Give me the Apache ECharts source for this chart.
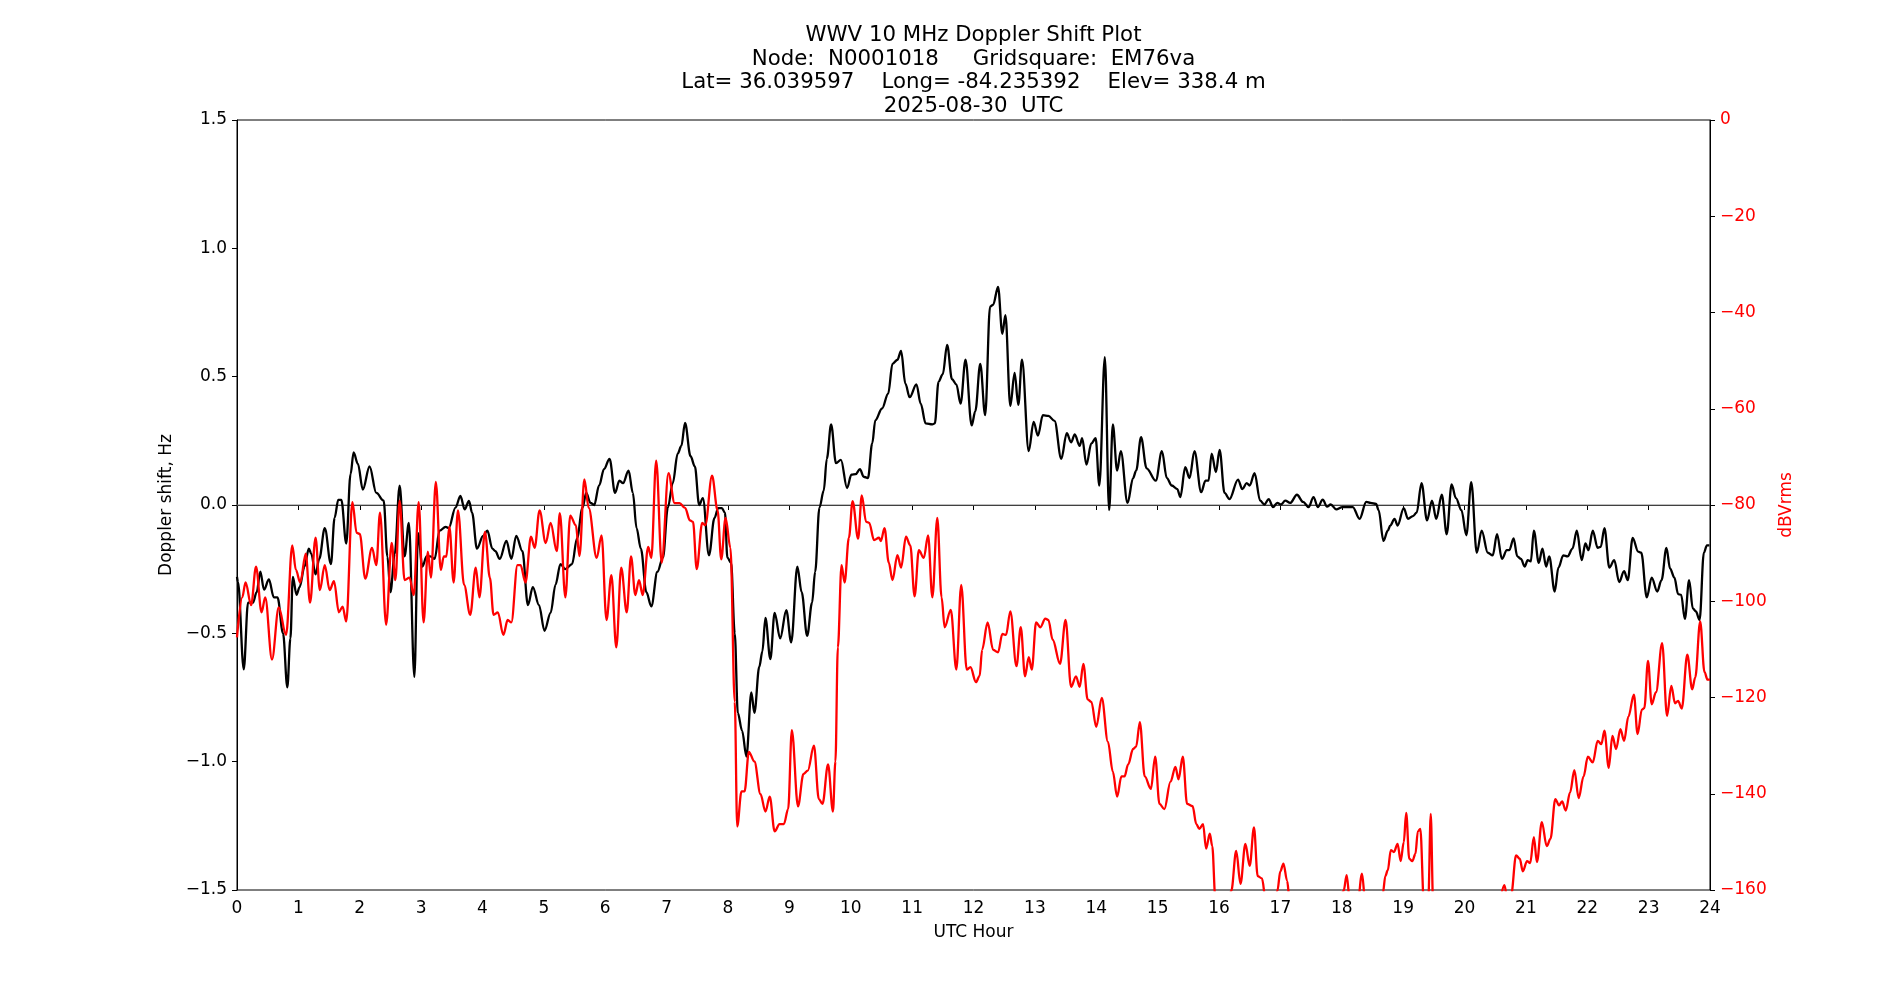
<!DOCTYPE html>
<html>
<head>
<meta charset="utf-8">
<title>WWV 10 MHz Doppler Shift Plot</title>
<script src="https://cdn.jsdelivr.net/npm/echarts@6/dist/echarts.min.js"></script>
<style>
  html, body { margin: 0; padding: 0; background: #fff; }
  #chart { width: 1900px; height: 1000px; }
</style>
</head>
<body>
<div id="chart"></div>
<script>
// doppler trace (black, left axis)
var shiftHours = [0.0, 0.016, 0.11, 0.18, 0.26, 0.32, 0.38, 0.44, 0.52, 0.60, 0.66, 0.75, 0.82, 0.87, 0.91, 0.97,
  1.02, 1.10, 1.17, 1.21, 1.28, 1.34, 1.43, 1.53, 1.59, 1.65, 1.70, 1.78, 1.85, 1.90, 1.97,
  2.05, 2.16, 2.27, 2.39, 2.45, 2.50, 2.57, 2.65, 2.73, 2.80, 2.89, 2.95,
  3.02, 3.09, 3.15, 3.22, 3.30, 3.40, 3.45, 3.56, 3.64, 3.71, 3.78, 3.83, 3.91,
  4.01, 4.08, 4.16, 4.21, 4.28, 4.39, 4.47, 4.55, 4.65, 4.74, 4.82, 4.92,
  5.01, 5.11, 5.19, 5.27, 5.35, 5.46, 5.54, 5.63, 5.69, 5.76, 5.82, 5.90, 5.98,
  6.07, 6.16, 6.23, 6.29, 6.38, 6.45, 6.51, 6.58, 6.67, 6.75, 6.85, 6.94,
  7.02, 7.10, 7.18, 7.24, 7.30, 7.39, 7.46, 7.53, 7.59, 7.69, 7.78, 7.84, 7.90, 7.95, 7.99,
  8.05, 8.11, 8.16, 8.23, 8.30, 8.38, 8.43, 8.51, 8.56, 8.61, 8.69, 8.76, 8.85, 8.95,
  9.03, 9.13, 9.20, 9.29, 9.37, 9.42, 9.49, 9.56, 9.61, 9.68, 9.76, 9.84, 9.94,
  10.01, 10.08, 10.15, 10.21, 10.28, 10.35, 10.40, 10.51, 10.61, 10.68, 10.76, 10.82, 10.89, 10.96,
  11.07, 11.14, 11.22, 11.33, 11.37, 11.43, 11.50, 11.57, 11.65, 11.72, 11.79, 11.87, 11.97,
  12.03, 12.11, 12.19, 12.27, 12.32, 12.40, 12.47, 12.52, 12.60, 12.67, 12.73, 12.79, 12.90, 12.98,
  13.05, 13.13, 13.22, 13.32, 13.43, 13.52, 13.59, 13.65, 13.73, 13.77, 13.84, 13.92, 13.99,
  14.05, 14.14, 14.21, 14.27, 14.34, 14.40, 14.51, 14.60, 14.65, 14.73, 14.82, 14.97,
  15.07, 15.15, 15.23, 15.32, 15.37, 15.45, 15.52, 15.60, 15.71, 15.78, 15.83, 15.88, 15.95,
  16.01, 16.09, 16.17, 16.31, 16.38, 16.45, 16.50, 16.58, 16.67, 16.74, 16.81, 16.88, 16.95,
  17.01, 17.08, 17.16, 17.27, 17.37, 17.46, 17.54, 17.61, 17.69, 17.76, 17.82, 17.91,
  18.01, 18.18, 18.29, 18.40, 18.47, 18.56, 18.60, 18.68, 18.75, 18.79, 18.86, 18.91,
  19.01, 19.08, 19.16, 19.22, 19.30, 19.39, 19.47, 19.54, 19.63, 19.71, 19.79, 19.86, 19.95,
  20.03, 20.11, 20.20, 20.28, 20.38, 20.46, 20.53, 20.61, 20.69, 20.73, 20.80, 20.86, 20.92, 20.98,
  21.03, 21.08, 21.13, 21.21, 21.27, 21.33, 21.38, 21.47, 21.53, 21.61, 21.68, 21.76, 21.83, 21.91, 21.97,
  22.02, 22.09, 22.17, 22.22, 22.28, 22.36, 22.44, 22.52, 22.60, 22.66, 22.74, 22.83, 22.88, 22.97,
  23.05, 23.14, 23.21, 23.29, 23.35, 23.42, 23.48, 23.53, 23.59, 23.66, 23.72, 23.77, 23.83, 23.90, 23.95, 23.99];

var shiftHz = [-0.28, -0.30, -0.64, -0.38, -0.38, -0.34, -0.26, -0.33, -0.29, -0.36, -0.36, -0.50, -0.71, -0.52, -0.28, -0.35,
  -0.32, -0.24, -0.17, -0.19, -0.27, -0.21, -0.09, -0.23, -0.05, 0.02, 0.02, -0.15, 0.12, 0.205, 0.16,
  0.06, 0.15, 0.047, 0.017, -0.20, -0.34, -0.19, 0.075, -0.20, -0.07, -0.67, -0.11,
  -0.24, -0.20, -0.20, -0.21, -0.10, -0.085, -0.09, -0.01, 0.035, -0.017, 0.016, -0.03, -0.17,
  -0.12, -0.10, -0.17, -0.18, -0.21, -0.14, -0.21, -0.12, -0.18, -0.39, -0.32, -0.39,
  -0.49, -0.42, -0.31, -0.23, -0.25, -0.23, -0.13, -0.01, 0.047, 0.008, 0.0, 0.076, 0.14,
  0.18, 0.047, 0.095, 0.085, 0.134, 0.047, -0.09, -0.17, -0.34, -0.395, -0.26, -0.205,
  -0.01, 0.085, 0.20, 0.23, 0.32, 0.19, 0.15, 0.0, 0.027, -0.196, -0.05, -0.012, -0.012, -0.03, -0.205,
  -0.225, -0.50, -0.81, -0.88, -0.98, -0.73, -0.81, -0.63, -0.57, -0.44, -0.60, -0.42, -0.52, -0.41,
  -0.535, -0.24, -0.34, -0.51, -0.38, -0.26, -0.01, 0.056, 0.18, 0.314, 0.163, 0.176, 0.066,
  0.118, 0.12, 0.14, 0.11, 0.105, 0.24, 0.33, 0.376, 0.434, 0.55, 0.566, 0.60, 0.473, 0.42,
  0.47, 0.395, 0.318, 0.314, 0.318, 0.48, 0.51, 0.624, 0.49, 0.47, 0.395, 0.566, 0.31,
  0.366, 0.55, 0.35, 0.773, 0.78, 0.85, 0.667, 0.74, 0.386, 0.515, 0.39, 0.566, 0.21, 0.324,
  0.27, 0.35, 0.347, 0.328, 0.18, 0.28, 0.244, 0.275, 0.23, 0.26, 0.157, 0.24, 0.26,
  0.076, 0.576, -0.02, 0.314, 0.134, 0.21, 0.008, 0.105, 0.134, 0.264, 0.143, 0.095,
  0.21, 0.105, 0.076, 0.062, 0.031, 0.147, 0.105, 0.21, 0.05, 0.095, 0.095, 0.20, 0.128,
  0.215, 0.047, 0.023, 0.099, 0.062, 0.085, 0.076, 0.124, 0.017, 0.002, 0.023, -0.008, 0.008,
  0.002, 0.017, 0.008, 0.04, 0.012, -0.008, 0.031, -0.008, 0.021, -0.006, 0.002, -0.017,
  -0.008, -0.008, -0.054, 0.012, 0.008, 0.004, -0.02, -0.14, -0.10, -0.08, -0.054, -0.08,
  -0.012, -0.054, -0.043, -0.03, 0.085, -0.06, 0.017, -0.054, 0.04, -0.114, 0.08, 0.027, -0.02,
  -0.118, 0.089, -0.186, -0.10, -0.186, -0.196, -0.114, -0.21, -0.176, -0.176, -0.13, -0.20, -0.21, -0.24,
  -0.215, -0.22, -0.10, -0.225, -0.17, -0.24, -0.20, -0.337, -0.244, -0.196, -0.20, -0.17, -0.10, -0.215, -0.15,
  -0.176, -0.10, -0.167, -0.163, -0.09, -0.244, -0.215, -0.30, -0.258, -0.293, -0.128, -0.182, -0.186, -0.36,
  -0.283, -0.337, -0.293, -0.167, -0.248, -0.283, -0.347, -0.35, -0.444, -0.293, -0.403, -0.415, -0.448, -0.186, -0.157, -0.157];

// signal level (red, right axis); values below -160 run off the plot
var levelHours = [0.0, 0.085, 0.14, 0.23, 0.31, 0.40, 0.46, 0.57, 0.68, 0.80, 0.90, 0.96,
  1.03, 1.12, 1.19, 1.28, 1.35, 1.43, 1.51, 1.58, 1.66, 1.72, 1.78, 1.88, 1.95,
  2.00, 2.09, 2.20, 2.27, 2.33, 2.43, 2.52, 2.58, 2.65, 2.73, 2.81, 2.88, 2.96,
  3.04, 3.11, 3.16, 3.24, 3.32, 3.37, 3.41, 3.46, 3.53, 3.60, 3.70, 3.80, 3.89, 3.95,
  4.04, 4.12, 4.18, 4.25, 4.34, 4.41, 4.47, 4.57, 4.62, 4.70, 4.79, 4.85, 4.93,
  5.03, 5.11, 5.21, 5.26, 5.35, 5.43, 5.52, 5.58, 5.66, 5.73, 5.86, 5.94,
  6.02, 6.10, 6.18, 6.26, 6.35, 6.42, 6.49, 6.55, 6.61, 6.70, 6.75, 6.83, 6.92,
  7.03, 7.13, 7.21, 7.30, 7.38, 7.43, 7.49, 7.58, 7.63, 7.74, 7.83, 7.89, 7.96,
  8.04, 8.11, 8.15, 8.22, 8.27, 8.34, 8.43, 8.53, 8.61, 8.68, 8.76, 8.84, 8.91, 8.98,
  9.04, 9.14, 9.23, 9.30, 9.40, 9.48, 9.54, 9.63, 9.71, 9.75, 9.79, 9.85, 9.90, 9.97,
  10.03, 10.12, 10.18, 10.25, 10.30, 10.38, 10.46, 10.49, 10.55, 10.62, 10.68, 10.76, 10.82, 10.90, 10.97,
  11.04, 11.11, 11.19, 11.26, 11.33, 11.41, 11.48, 11.53, 11.63, 11.72, 11.80, 11.89, 11.95,
  12.04, 12.10, 12.14, 12.23, 12.32, 12.40, 12.47, 12.53, 12.60, 12.70, 12.77, 12.84, 12.90, 12.95,
  13.02, 13.09, 13.17, 13.22, 13.29, 13.41, 13.50, 13.59, 13.67, 13.73, 13.79, 13.86, 13.92,
  14.00, 14.09, 14.19, 14.27, 14.34, 14.41, 14.46, 14.52, 14.60, 14.65, 14.71, 14.79, 14.89, 14.96,
  15.03, 15.11, 15.21, 15.29, 15.34, 15.41, 15.48, 15.57, 15.63, 15.68, 15.74, 15.79, 15.85, 15.89, 15.94,
  16.00, 16.10, 16.20, 16.28, 16.35, 16.43, 16.50, 16.57, 16.63, 16.70, 16.76, 16.85, 16.95,
  17.00, 17.05, 17.11, 17.15, 17.30, 17.50, 17.70, 17.90,
  18.03, 18.08, 18.13, 18.25, 18.33, 18.38, 18.50, 18.67, 18.71, 18.75, 18.80, 18.85, 18.91, 18.96,
  19.01, 19.05, 19.10, 19.15, 19.20, 19.24, 19.28, 19.34, 19.41, 19.45, 19.49, 19.60, 19.80,
  20.00, 20.20, 20.40, 20.55, 20.65, 20.70, 20.76, 20.84, 20.90, 20.95,
  21.02, 21.07, 21.13, 21.18, 21.26, 21.34, 21.40, 21.48, 21.54, 21.59, 21.65, 21.72, 21.79, 21.86, 21.94,
  22.01, 22.09, 22.17, 22.23, 22.28, 22.35, 22.41, 22.47, 22.54, 22.60, 22.67, 22.76, 22.82, 22.89, 22.93, 22.99,
  23.05, 23.12, 23.22, 23.30, 23.37, 23.43, 23.48, 23.54, 23.63, 23.71, 23.76, 23.84, 23.91, 23.96, 24.0];

var levelDb = [-107.5, -99.2, -96.1, -100.8, -92.8, -102.3, -99.2, -112.1, -101.3, -107.0, -88.4, -93.5,
  -96.1, -90.1, -100.3, -86.8, -97.7, -92.5, -97.7, -95.8, -102.3, -101.1, -104.2, -79.4, -85.8,
  -86.0, -95.3, -88.9, -92.5, -81.6, -104.9, -87.9, -95.6, -79.1, -95.6, -95.1, -98.7, -79.4,
  -104.4, -89.7, -95.1, -75.2, -93.5, -90.7, -90.7, -84.5, -96.1, -81.1, -96.6, -102.8, -93.0, -99.2,
  -85.6, -95.1, -102.8, -102.3, -107.0, -103.9, -104.4, -92.5, -92.5, -96.1, -86.6, -88.9, -81.1,
  -87.9, -83.7, -89.6, -81.7, -99.2, -82.2, -84.2, -90.6, -74.7, -80.6, -91.0, -86.3,
  -103.9, -94.6, -109.6, -93.0, -102.3, -90.7, -98.7, -95.6, -98.7, -88.7, -91.0, -70.8, -92.0,
  -73.4, -79.6, -79.6, -80.6, -83.2, -83.5, -93.3, -83.7, -84.2, -73.9, -81.1, -91.3, -82.7,
  -88.9, -120.9, -146.8, -139.5, -139.5, -131.3, -133.3, -140.1, -143.7, -140.6, -147.8, -146.3, -146.3, -143.2,
  -126.8, -142.6, -135.9, -135.2, -130.0, -141.1, -142.1, -133.9, -143.7, -133.3, -109.6, -92.5, -96.1, -86.8,
  -79.2, -87.0, -78.0, -83.5, -83.7, -87.3, -86.8, -87.5, -84.8, -92.0, -95.6, -90.4, -93.0, -86.6, -88.4,
  -99.0, -89.4, -91.0, -86.3, -99.2, -82.7, -99.2, -105.4, -101.8, -114.2, -96.6, -114.2, -113.7,
  -116.8, -115.5, -110.1, -104.4, -110.1, -110.6, -106.8, -107.0, -102.1, -113.5, -105.4, -115.6, -111.6, -114.2,
  -104.4, -105.4, -103.6, -103.9, -108.0, -113.0, -103.9, -117.8, -115.6, -117.8, -113.0, -120.4, -120.9,
  -126.1, -120.1, -129.2, -135.4, -140.6, -136.4, -136.4, -133.9, -130.7, -130.2, -125.1, -136.4, -139.0, -132.3,
  -142.1, -143.2, -137.5, -134.4, -137.0, -132.3, -142.1, -142.6, -146.3, -147.3, -146.3, -151.4, -148.3, -150.9, -161.5,
  -168, -167, -160.2, -151.9, -158.7, -150.4, -155.0, -147.0, -157.1, -157.6, -162, -166, -160.2,
  -156.1, -154.5, -158.1, -162, -168, -166, -167, -164,
  -160.2, -156.9, -162, -164, -156.6, -162, -165, -160.7, -157.1, -155.9, -151.7, -152.1, -150.4, -154.0,
  -150.1, -144.0, -153.5, -154.0, -152.5, -147.8, -147.3, -163, -162, -144.2, -163, -167, -168,
  -167, -168, -166, -163, -159, -162, -161, -152.8, -153.5, -156.1,
  -154.0, -154.4, -149.0, -154.2, -145.9, -150.9, -149.4, -141.1, -142.4, -141.6, -143.5, -139.7, -135.1, -140.9, -136.4,
  -132.3, -133.5, -129.0, -129.7, -126.9, -134.6, -128.0, -130.7, -126.6, -129.0, -124.0, -119.4, -127.6, -122.5, -122.2, -112.4,
  -121.4, -118.9, -108.7, -123.8, -117.6, -121.2, -120.7, -122.3, -111.1, -118.3, -115.8, -104.2, -114.7, -116.3, -116.3];

var titleLines = [
  'WWV 10 MHz Doppler Shift Plot',
  'Node:  N0001018     Gridsquare:  EM76va',
  'Lat= 36.039597    Long= -84.235392    Elev= 338.4 m',
  '2025-08-30  UTC'
];

function pairs(xs, ys) {
  var out = [];
  for (var i = 0; i < xs.length; i++) out.push([xs[i], ys[i]]);
  return out;
}
function minus(s) { return String(s).replace('-', '\u2212'); }

var FONT = 'DejaVu Sans';
var LABEL = 17;
var chart = echarts.init(document.getElementById('chart'), null, { renderer: 'canvas' });

var option = {
  animation: false,
  backgroundColor: '#ffffff',
  textStyle: { fontFamily: FONT },
  graphic: [{
    type: 'text',
    x: 973.5, y: 24,
    style: {
      text: titleLines.join('\n'),
      font: '21.3px "DejaVu Sans"',
      fill: '#000',
      textAlign: 'center',
      textVerticalAlign: 'top',
      lineHeight: 23.5
    }
  }],
  grid: {
    left: 237, right: 190, top: 120, bottom: 110,
    show: true, borderColor: '#000', borderWidth: 1,
    outerBoundsMode: 'none'
  },
  xAxis: {
    type: 'value', min: 0, max: 24, interval: 1,
    name: 'UTC Hour', nameLocation: 'middle', nameGap: 34,
    nameTextStyle: { fontSize: LABEL, color: '#000', fontFamily: FONT },
    axisLine: { show: true, lineStyle: { color: '#000', width: 1 } },
    axisTick: { show: true, length: 5, lineStyle: { color: '#000' } },
    axisLabel: { fontSize: LABEL, color: '#000', margin: 10, fontFamily: FONT },
    splitLine: { show: false }
  },
  yAxis: [{
    type: 'value', min: -1.5, max: 1.5, interval: 0.5, position: 'left',
    name: 'Doppler shift, Hz', nameLocation: 'middle', nameGap: 58,
    nameTextStyle: { fontSize: LABEL, color: '#000', fontFamily: FONT },
    axisLine: { show: true, lineStyle: { color: '#000', width: 1 } },
    axisTick: { show: true, length: 5, lineStyle: { color: '#000' } },
    axisLabel: { fontSize: LABEL, color: '#000', margin: 10, fontFamily: FONT,
      formatter: function (v) { return minus(v.toFixed(1)); } },
    splitLine: { show: false }
  }, {
    type: 'value', min: -160, max: 0, interval: 20, position: 'right',
    name: 'dBVrms', nameLocation: 'middle', nameGap: 63,
    nameTextStyle: { fontSize: LABEL, color: '#ff0000', fontFamily: FONT },
    axisLine: { show: true, lineStyle: { color: '#000', width: 1 } },
    axisTick: { show: true, length: 5, lineStyle: { color: '#000' } },
    axisLabel: { fontSize: LABEL, color: '#ff0000', margin: 10, fontFamily: FONT,
      formatter: function (v) { return minus(v); } },
    splitLine: { show: false }
  }],
  series: [{
    name: 'zero', type: 'line', yAxisIndex: 0, z: 1,
    data: [[0, 0], [24, 0]], symbol: 'none', silent: true,
    lineStyle: { color: '#808080', width: 1 }
  }, {
    name: 'Doppler', type: 'line', yAxisIndex: 0, z: 2,
    data: pairs(shiftHours, shiftHz),
    symbol: 'none', smooth: 0.35, smoothMonotone: 'x', clip: true,
    lineStyle: { color: '#000000', width: 2.3 }
  }, {
    name: 'Power', type: 'line', yAxisIndex: 1, z: 3,
    data: pairs(levelHours, levelDb),
    symbol: 'none', smooth: 0.35, smoothMonotone: 'x', clip: true,
    lineStyle: { color: '#ff0000', width: 2.3 }
  }]
};

chart.setOption(option);
</script>
</body>
</html>
